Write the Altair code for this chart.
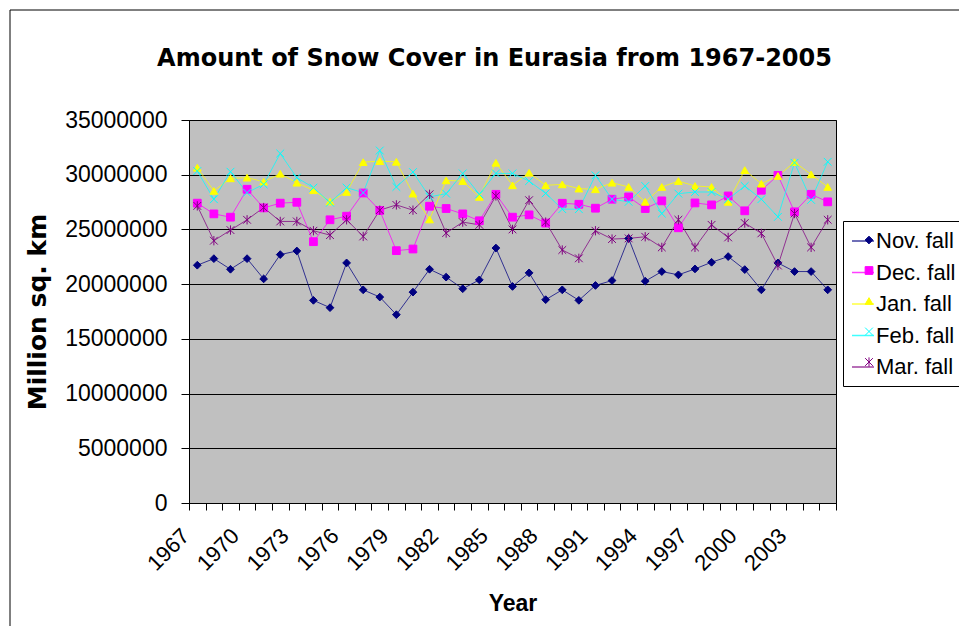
import altair as alt
import pandas as pd

years = list(range(1967, 2006))
series_names = ["Nov. fall", "Dec. fall", "Jan. fall", "Feb. fall", "Mar. fall"]

# values in million sq. km
nov = [21.73, 22.33, 21.36, 22.33, 20.48, 22.70, 23.03, 18.52, 17.85, 21.94, 19.48, 18.82, 17.21,
       19.27, 21.36, 20.64, 19.58, 20.39, 23.30, 19.79, 21.03, 18.58, 19.48, 18.52, 19.88,
       20.33, 24.18, 20.27, 21.15, 20.85, 21.39, 22.00, 22.52, 21.33, 19.48, 21.94, 21.15, 21.15, 19.48]
dec = [27.40, 26.42, 26.12, 28.67, 26.97, 27.40, 27.48, 23.88, 25.88, 26.21, 28.33, 26.73, 23.06,
       23.21, 27.12, 26.91, 26.42, 25.79, 28.21, 26.12, 26.33, 25.58, 27.39, 27.30, 26.94,
       27.76, 27.97, 26.91, 27.61, 25.15, 27.42, 27.24, 28.06, 26.70, 28.58, 29.94, 26.61, 28.21, 27.52]
jan = [30.64, 28.52, 29.67, 29.73, 29.36, 30.09, 29.27, 28.58, 27.55, 28.42, 31.15, 31.24, 31.18,
       28.27, 25.91, 29.48, 29.42, 27.97, 31.09, 29.03, 30.18, 29.03, 29.12, 28.73, 28.67,
       29.27, 28.88, 27.52, 28.88, 29.42, 28.97, 28.88, 27.52, 30.42, 29.18, 29.88, 31.15, 30.03, 28.88]
feb = [30.33, 27.76, 30.27, 28.36, 29.12, 31.94, 29.73, 28.82, 27.45, 28.82, 28.36, 32.21, 28.88,
       30.24, 27.97, 28.27, 30.12, 28.21, 30.12, 30.12, 29.42, 28.30, 26.85, 26.85, 29.94,
       27.76, 27.52, 28.97, 26.45, 28.27, 28.42, 28.42, 27.76, 28.97, 27.76, 26.15, 31.09, 27.70, 31.18]
mar = [27.15, 23.97, 24.94, 25.88, 27.00, 25.73, 25.73, 24.88, 24.48, 25.88, 24.36, 26.76, 27.24,
       26.76, 28.21, 24.67, 25.67, 25.42, 28.06, 25.00, 27.67, 25.67, 23.12, 22.36, 24.88,
       24.12, 24.18, 24.33, 23.36, 25.88, 23.36, 25.42, 24.27, 25.58, 24.64, 21.70, 26.45, 23.36, 25.88]

colors = ["#000080", "#FF00FF", "#FFFF00", "#00FFFF", "#800080"]
shapes = ["diamond", "square", "triangle-up",
          "M-1,-1L1,1M-1,1L1,-1",
          "M-1,-1L1,1M-1,1L1,-1M0,-1.2L0,1.2"]
y_ticks = [0, 5000000, 10000000, 15000000, 20000000, 25000000, 30000000, 35000000]

# marker legend uses its own keys (labels hidden) so it is not merged with the line legend
marker_keys = [s + " " for s in series_names]

rows = []
for name, key, vals in zip(series_names, marker_keys, [nov, dec, jan, feb, mar]):
    for yr, v in zip(years, vals):
        rows.append({"Year": yr, "Series": name, "Key": key, "Value": round(v * 1e6)})
df = pd.DataFrame(rows)

FONT = "Liberation Sans"

x_enc = alt.X(
    "Year:O",
    scale=alt.Scale(type="band", paddingInner=0, paddingOuter=0),
    bandPosition=0.5,
    axis=alt.Axis(
        title="Year", labelAngle=315, labelAlign="right", labelBaseline="middle",
        tickBand="extent", labelOverlap=False, grid=False,
        labelExpr="(datum.value - 1967) % 3 == 0 ? datum.label : ''",
        tickSize=7, labelPadding=22, labelOffset=-12, titlePadding=18,
        labelFontSize=22,
    ),
)
y_enc = alt.Y(
    "Value:Q",
    scale=alt.Scale(domain=[0, 35000000], nice=False),
    axis=alt.Axis(
        title="Million sq. km", values=y_ticks, format="d", grid=True,
        gridColor="black", gridWidth=1, tickSize=8, labelPadding=14, titlePadding=14,
        titleFont="DejaVu Sans", titleFontSize=25,
    ),
)

border = alt.Chart(pd.DataFrame({"k": [0]})).mark_rect(
    fill="transparent", stroke="black", strokeWidth=1
).encode(x=alt.value(-179), x2=alt.value(900), y=alt.value(-110), y2=alt.value(700))

legend_common = dict(
    title=None, orient="none", legendY=101, labelFontSize=22, labelFont=FONT,
    padding=8, rowPadding=8.5, labelColor="black",
)

lines = alt.Chart(df).mark_line(strokeWidth=1, opacity=0.75).encode(
    x=x_enc, y=y_enc,
    color=alt.Color(
        "Series:N", scale=alt.Scale(domain=series_names, range=colors),
        legend=alt.Legend(legendX=654, symbolType="stroke", symbolSize=484,
                          symbolStrokeWidth=1.5, labelOffset=1,
                          fillColor="white", strokeColor="black", **legend_common),
    ),
)

leg2 = alt.Legend(legendX=661, symbolSize=60, symbolStrokeWidth=1, labelOffset=12,
                  labelExpr="''", **legend_common)
points = alt.Chart(df).mark_point(size=60, opacity=1, strokeWidth=1, filled=True).encode(
    x=x_enc, y=y_enc,
    fill=alt.Fill("Key:N", scale=alt.Scale(domain=marker_keys, range=colors), legend=leg2),
    stroke=alt.Stroke("Key:N", scale=alt.Scale(domain=marker_keys, range=colors), legend=leg2),
    shape=alt.Shape("Key:N", scale=alt.Scale(domain=marker_keys, range=shapes), legend=leg2),
)

chart = alt.layer(border, lines, points).properties(
    width=647, height=383,
    title=alt.TitleParams(
        text="Amount of Snow Cover in Eurasia from 1967-2005",
        font="DejaVu Sans", fontSize=24, fontWeight="bold", color="black",
        anchor="middle", frame="group", dx=-18, offset=0, dy=80.5, baseline="alphabetic",
    ),
    padding={"left": 181, "top": 112, "right": 123, "bottom": 123},
    autosize=alt.AutoSizeParams(type="none"),
).configure_view(
    fill="#C0C0C0", stroke="black", strokeWidth=1,
).configure_axis(
    labelFont=FONT, labelFontSize=23, labelColor="black",
    titleFont=FONT, titleFontSize=23, titleFontWeight="bold", titleColor="black",
    domainColor="black", tickColor="black", domainWidth=1, tickWidth=1,
)

chart.save("out.html", embed_options={"renderer": "svg", "actions": False})
